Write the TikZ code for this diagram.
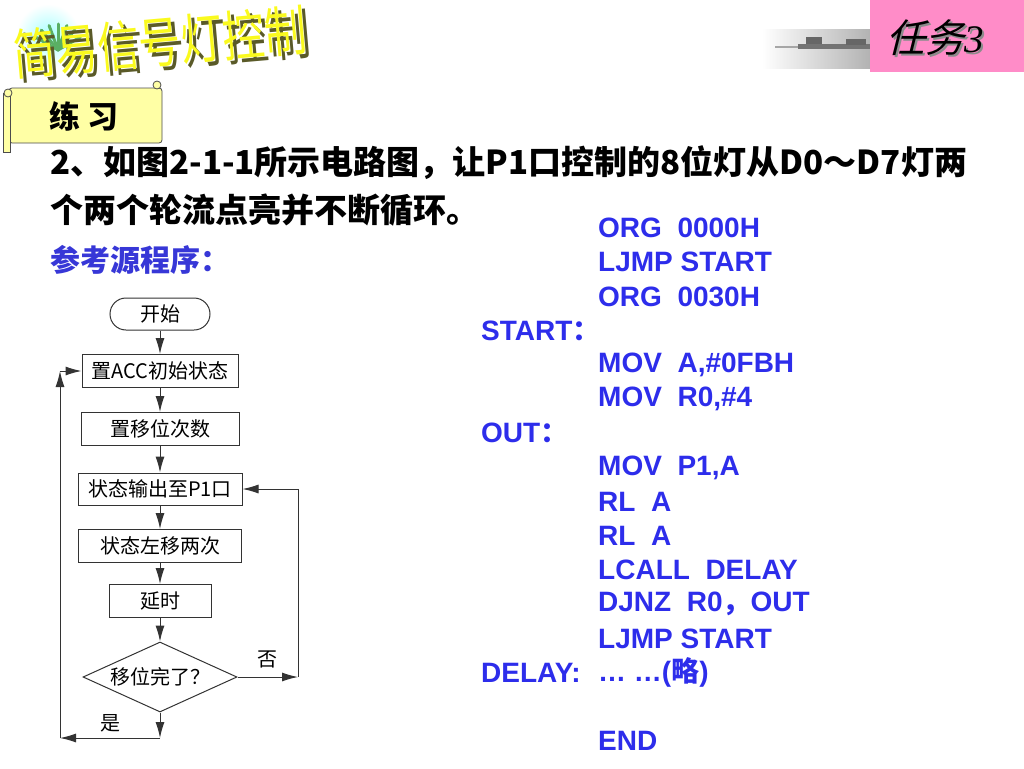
\documentclass[tikz,border=0pt]{standalone}
\usepackage{fontspec}
\setmainfont{Liberation Sans}
\newfontfamily\cjk{Noto Sans CJK SC}
\newfontfamily\cjksl[FakeSlant=0.25]{Noto Sans CJK SC}
\newfontfamily\romanfont{Liberation Serif}
\usetikzlibrary{positioning,shapes.geometric,arrows.meta}
\definecolor{codeblue}{RGB}{45,45,235}
\definecolor{refblue}{RGB}{55,55,215}
\definecolor{pinkbg}{RGB}{255,140,200}
\definecolor{scrollyellow}{RGB}{255,255,165}
\definecolor{titleyellow}{RGB}{250,250,30}
\definecolor{titleedge}{RGB}{90,90,40}
\definecolor{leafgreen}{RGB}{90,175,100}
\tikzset{
  box/.style={draw=black!80, line width=1pt, minimum height=33pt, inner sep=2pt, font=\cjk\fontsize{20}{22}\selectfont},
  arr/.style={draw=black!80, line width=1pt, -{Latex[length=16pt,width=9pt]}},
  plain/.style={draw=black!80, line width=1pt},
  code/.style={anchor=west, inner sep=0pt, text=codeblue, font=\bfseries\fontsize{28}{30}\selectfont},
  body/.style={anchor=west, inner sep=0pt, font=\cjk\bfseries\fontsize{33}{36}\selectfont},
  title/.style={rotate=5, yscale=1.3, inner sep=0pt, font=\cjk\fontsize{42}{44}\selectfont},
  scroll/.style={draw=black!70, line width=.8pt, fill=scrollyellow},
}
\begin{document}
\begin{tikzpicture}[x=1pt, y=-1pt, auto]
  \useasboundingbox (0,0) rectangle (1024,768);

  \shade[inner color=cyan!35, outer color=white] (48,36) circle (32);
  \foreach \a in {-150,-130,...,-30}
    \draw[leafgreen, line width=3pt, line cap=round] (58,50) -- ++(\a:26);
  \node[title, text=titleedge] (tshadow) at (164,46) {简易信号灯控制};
  \node[title, text=titleyellow] (title) at (160,42) {简易信号灯控制};

  \shade[left color=white, right color=black!30] (762,30) rectangle (870,68);
  \fill[black!55] (798,44) rectangle (870,49);
  \fill[black!60] (806,37) rectangle (822,44);
  \fill[black!60] (846,39) rectangle (866,45);
  \fill[black!35] (775,46) rectangle (798,48);
  \fill[pinkbg] (870,0) rectangle (1024,72);
  \node[text=black!45, font=\cjksl\fontsize{39}{41}\selectfont] (tasks) at (937,40) {任务{\romanfont\itshape 3}};
  \node[font=\cjksl\fontsize{39}{41}\selectfont] (task) at (935,38) {任务{\romanfont\itshape 3}};

  \draw[scroll, rounded corners=3pt] (9,88) rectangle (162,143);
  \draw[scroll] (3,93) rectangle (10,152);
  \draw[scroll] (8,93) circle (4);
  \draw[scroll] (157,85) circle (4);
  \node[font=\cjk\bfseries\fontsize{31}{33}\selectfont] (drill) at (84,116) {练\ 习};

  \node[body] (q1) at (50,163) {2、如图2-1-1所示电路图，让P1口控制的8位灯从D0～D7灯两};
  \node[body] (q2) at (50,210) {个两个轮流点亮并不断循环。};
  \node[body, text=refblue, font=\cjk\bfseries\fontsize{30}{32}\selectfont] (ref) at (50,260) {参考源程序：};

  \foreach \i/\t in {0/{ORG\ \ 0000H},1/{LJMP START},2/{ORG\ \ 0030H},4/{MOV\ \ A,\#0FBH},5/{MOV\ \ R0,\#4},
      7/{MOV\ \ P1,A},8/{RL\ \ A},9/{RL\ \ A},10/{LCALL\ \ DELAY},11/{DJNZ\ \ R0{\cjk ，}OUT},
      12/{LJMP START},13/{… …({\cjk 略})},15/{END}}
    \node[code] (ins\i) at (598,228+34.2*\i) {\t};
  \node[code] (lstart) at (481,330.6) {START{\cjk ：}};
  \node[code] (lout) at (481,433.2) {OUT{\cjk ：}};
  \node[code] (ldelay) at (481,672.6) {DELAY:};

  \node[box, rounded corners=16pt, minimum width=100pt, minimum height=32pt] (begin) at (160,314) {开始};
  \node[box, minimum width=156pt, node distance=57pt, below of=begin] (init) {置ACC初始状态};
  \node[box, minimum width=158pt, node distance=58pt, below of=init] (count) {置移位次数};
  \node[box, minimum width=164pt, minimum height=32pt, node distance=60pt, below of=count] (out) {状态输出至P1口};
  \node[box, minimum width=163pt, node distance=57pt, below of=out] (shift) {状态左移两次};
  \node[box, minimum width=102pt, node distance=55pt, below of=shift] (delay) {延时};
  \node[box, diamond, aspect=2.2, minimum width=154pt, minimum height=70pt, inner sep=0pt, node distance=76pt, below of=delay] (done) {移位完了？};

  \coordinate (c1) at (160,738);
  \coordinate (c2) at (60,738);
  \coordinate (c3) at (60,371);
  \coordinate (c4) at (298,677);
  \coordinate (c5) at (298,489);

  \draw[arr] (begin) to (init);
  \draw[arr] (init) to (count);
  \draw[arr] (count) to (out);
  \draw[arr] (out) to (shift);
  \draw[arr] (shift) to (delay);
  \draw[arr] (delay) to (done);
  \draw[arr] (done) to (c1);
  \draw[arr] (c1) to node [swap, inner sep=5pt, font=\cjk\fontsize{20}{22}\selectfont] {是} (c2);
  \draw[arr] (c2) to (c3);
  \draw[arr] (c3) to (init);
  \draw[arr] (done.east) to node [inner sep=8pt, font=\cjk\fontsize{20}{22}\selectfont] {否} (c4);
  \draw[plain] (c4) to (c5);
  \draw[arr] (c5) to (out);
\end{tikzpicture}
\end{document}
